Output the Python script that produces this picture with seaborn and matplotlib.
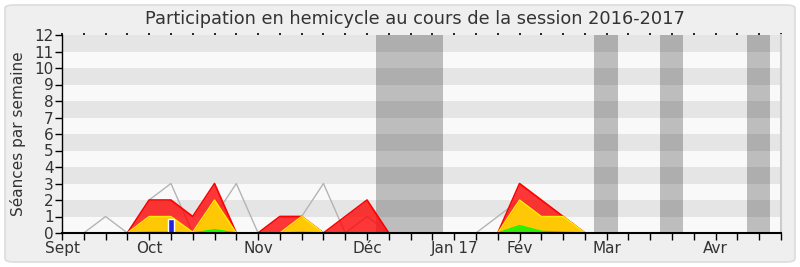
import numpy as np
import pandas as pd
import matplotlib
matplotlib.use("Agg")
import matplotlib.pyplot as plt
from matplotlib.patches import FancyBboxPatch
import seaborn as sns

# ---- data (weekly, week index 0 = early Sept 2016) ----
weeks = list(range(34))
total_seances = [0, 0, 1, 0, 2, 3, 0, 1, 3, 0, 1, 1, 3, 0, 1, 0, 0, 0, 0, 0, 1, 2, 0, 1, 0,
                 0, 0, 0, 0, 0, 0, 0, 0, 0]
presence_red = [0, 0, 0, 0, 2, 2, 1, 3, 0, 0, 1, 1, 0, 1, 2, 0, 0, 0, 0, 0, 0, 3, 2, 1, 0,
                0, 0, 0, 0, 0, 0, 0, 0, 0]
presence_yellow = [0, 0, 0, 0, 1, 1, 0.05, 2, 0, 0, 0, 1, 0, 0, 0, 0, 0, 0, 0, 0, 0, 2, 1, 1, 0,
                   0, 0, 0, 0, 0, 0, 0, 0, 0]
presence_green = [0, 0, 0, 0, 0.05, 0.05, 0, 0.2, 0, 0, 0, 0.05, 0, 0, 0, 0, 0, 0, 0, 0, 0, 0.45, 0.1, 0.05, 0,
                  0, 0, 0, 0, 0, 0, 0, 0, 0]
blue_week = [5]
blue_value = [0.85]
vacation_start = [14.43, 24.43, 27.43, 31.43]
vacation_end = [17.5, 25.5, 28.5, 32.5]
month_pos = [0, 4, 9, 14, 18, 21, 25, 30]
month_labels = ["Sept", "Oct", "Nov", "Déc", "Jan 17", "Fév", "Mar", "Avr"]
y_ticks = list(range(13))

df = pd.DataFrame({"week": weeks, "total": total_seances, "red": presence_red,
                   "yellow": presence_yellow, "green": presence_green})

sns.set_theme(style="white")
plt.rcParams["font.family"] = ["DejaVu Sans"]

W, H = 800, 267
fig = plt.figure(figsize=(W / 100, H / 100), dpi=100)
fig.patch.set_facecolor("white")
bg = FancyBboxPatch((5 / W, 5 / H), 790 / W, 257 / H, boxstyle="round,pad=0,rounding_size=0.012",
                    transform=fig.transFigure, facecolor="#efefef", edgecolor="#dcdcdc", lw=1.2,
                    zorder=-10)
fig.patches.append(bg)

ax = fig.add_axes([62 / W, (H - 233) / H, (781 - 62) / W, (233 - 35) / H])
ax.set_zorder(5)
ax.set_facecolor("#f9f9f9")
for k in range(1, 12, 2):
    ax.axhspan(k, k + 1, color="#e5e5e5", lw=0, zorder=0)
for s, e in zip(vacation_start, vacation_end):
    ax.axvspan(s, e, color="black", alpha=0.24, lw=0, zorder=1)

# gray total line
sns.lineplot(data=df, x="week", y="total", ax=ax, color="#b4b4b4", lw=1, zorder=2)

ax.fill_between(df["week"], 0, df["red"], color="#ff0000", alpha=0.78, lw=0, zorder=3)
sns.lineplot(data=df, x="week", y="red", ax=ax, color="#ff0000", lw=1.2, zorder=3)
ax.fill_between(df["week"], 0, df["yellow"], color="#ffd700", alpha=0.92, lw=0, zorder=4)
sns.lineplot(data=df, x="week", y="yellow", ax=ax, color="#ffee00", lw=1, zorder=4)
ax.fill_between(df["week"], 0, df["green"], color="#22ee00", alpha=0.9, lw=0, zorder=5)
sns.lineplot(data=df, x="week", y="green", ax=ax, color="#00ff00", lw=1, zorder=5)
ax.bar(blue_week, blue_value, width=0.28, color="#2222dd", zorder=6)

ax.set_xlim(0, 33)
ax.set_ylim(0, 12)
ax.set_xticks(weeks)
lbls = [""] * len(weeks)
for p, l in zip(month_pos, month_labels):
    lbls[p] = l
ax.set_xticklabels(lbls)
ax.set_yticks(y_ticks)
ax.set_yticklabels([str(v) for v in y_ticks])
ax.tick_params(axis="x", bottom=True, top=True, direction="out", length=5, width=1,
               color="black", labelsize=11, labelcolor="#333333", pad=1)
ax.tick_params(axis="y", left=True, direction="out", length=5, width=1, color="black",
               labelsize=11, labelcolor="#333333", pad=1)
for t in ax.xaxis.get_major_ticks():
    t.tick2line.set_markersize(1.5)
    t.tick2line.set_markeredgewidth(1.2)
ax.set_xlabel("")
ax.set_ylabel("Séances par semaine", fontsize=11, color="#333333", labelpad=6)
ax.spines["top"].set_visible(False)
ax.spines["right"].set_color("#cccccc")
ax.spines["right"].set_linewidth(1.5)
ax.spines["left"].set_color("black")
ax.spines["bottom"].set_color("black")
ax.spines["left"].set_linewidth(1)
ax.spines["bottom"].set_linewidth(1.5)
for sp in ax.spines.values():
    sp.set_zorder(10)

fig.text(415 / W, 1 - 19 / H, "Participation en hemicycle au cours de la session 2016-2017",
         ha="center", va="center", fontsize=12.8, color="#333333")

fig.savefig("out.png", dpi=100, facecolor=fig.get_facecolor())
